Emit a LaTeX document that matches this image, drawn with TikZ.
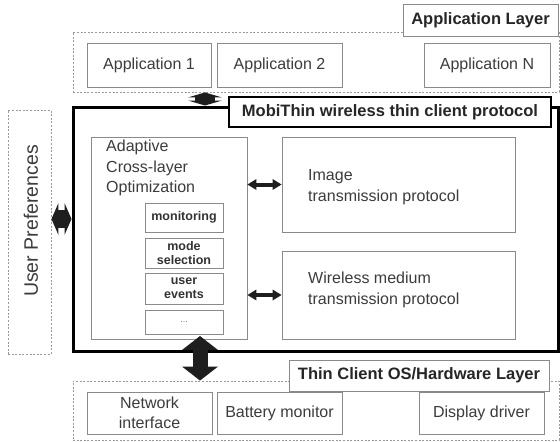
\documentclass[tikz,border=0pt]{standalone}
\usepackage{fontspec}
\setmainfont{Liberation Sans}
\usetikzlibrary{arrows.meta}
\definecolor{boxgray}{HTML}{8A8A8A}
\definecolor{txtgray}{HTML}{3C3C3C}
\definecolor{dotgray}{HTML}{9A9A9A}
\definecolor{arrblack}{HTML}{1E1E1E}
\begin{document}
\begin{tikzpicture}[x=1pt,y=-1pt,
  dashbox/.style={draw=dotgray, line width=0.9pt, dash pattern=on 2pt off 1.6pt, inner sep=0pt},
  gbox/.style={draw=boxgray, line width=0.9pt, fill=white, inner sep=0pt, text=txtgray, align=center, font=\fontsize{16}{20.5}\selectfont},
  lbl/.style={draw=boxgray, line width=0.9pt, fill=white, inner sep=0pt, text=black!85, font=\bfseries\fontsize{16.5}{20}\selectfont},
  thicklbl/.style={draw=black, line width=2.6pt, fill=white, inner sep=0pt, text=black!85, font=\bfseries\fontsize{16.5}{20}\selectfont},
  subbox/.style={draw=boxgray, line width=0.8pt, fill=white, inner sep=0pt, align=center, text=black!80, font=\bfseries\fontsize{12.5}{14}\selectfont},
  txt/.style={inner sep=0pt, align=left, text=txtgray, font=\fontsize{16}{20.5}\selectfont},
  bigarrow/.style={draw=arrblack, line width=15pt, >={Triangle[width=36pt,length=14pt,line width=0pt]}, <->},
  toparrow/.style={draw=arrblack, line width=20pt, >={Triangle[width=34pt,length=5pt,line width=0pt]}, <->},
  leftarrow/.style={draw=arrblack, line width=18pt, >={Triangle[width=32pt,length=7pt,line width=0pt]}, <->},
  thinarrow/.style={draw=arrblack, line width=4pt, >={Triangle[width=11pt,length=9pt,line width=0pt]}, <->}
]
\useasboundingbox[fill=white] (0,0) rectangle (560,442);

% Application layer
\node[dashbox, minimum width=486, minimum height=60] (applayer) at (316,62) {};
\node[lbl, minimum width=155, minimum height=32] (applbl) at (480.5,20) {Application Layer};
\node[gbox, minimum width=124, minimum height=44] (app1) at (149,65) {Application 1};
\node[gbox, minimum width=125, minimum height=44] (app2) at (279.5,65) {Application 2};
\node[gbox, minimum width=126, minimum height=44] (appN) at (487,65) {Application N};

% User preferences
\node[dashbox, minimum width=43, minimum height=244] (up) at (29.5,232) {};
\node[txt, rotate=90, font=\fontsize{19.5}{22}\selectfont] (uptxt) at (31,221) {User Preferences};

% MobiThin
\node[draw=black, line width=3pt, fill=white, inner sep=0pt, minimum width=485, minimum height=244] (mobi) at (315.5,229) {};
\node[thicklbl, minimum width=322, minimum height=30] (mobilbl) at (390,112) {MobiThin wireless thin client protocol};

\node[gbox, minimum width=156, minimum height=202] (adapt) at (169,238) {};
\node[txt, anchor=north west] (adapttxt) at (106,140) {Adaptive\\Cross-layer\\Optimization};
\node[subbox, minimum width=78, minimum height=29] (mon) at (184,217.5) {monitoring};
\node[subbox, minimum width=78, minimum height=30] (mode) at (184,253) {mode\\selection};
\node[subbox, minimum width=78, minimum height=31] (uev) at (184,288.5) {user\\events};
\node[subbox, minimum width=78, minimum height=24, font=\fontsize{9}{10}\selectfont, text=black!55] (dots) at (184,322) {...};

\node[gbox, minimum width=233, minimum height=95] (img) at (398.5,184.5) {};
\node[txt, anchor=west] (imgtxt) at (308,187) {Image\\transmission protocol};
\node[gbox, minimum width=233, minimum height=88] (wl) at (398.5,295) {};
\node[txt, anchor=west] (wltxt) at (308,290) {Wireless medium\\transmission protocol};

% Hardware layer
\node[dashbox, minimum width=486, minimum height=59] (hw) at (316,410.5) {};
\node[lbl, minimum width=260, minimum height=31] (hwlbl) at (419,375.5) {Thin Client OS/Hardware Layer};
\node[gbox, minimum width=125, minimum height=42] (net) at (149.5,413) {Network\\interface};
\node[gbox, minimum width=125, minimum height=42] (bat) at (279.5,413) {Battery monitor};
\node[gbox, minimum width=125, minimum height=42] (disp) at (481.5,413) {Display driver};

% Arrows
\coordinate (topx) at (205,0);
\draw[toparrow] (topx |- applayer.south) -- (topx |- mobi.north);
\coordinate (lefty) at (0,219);
\draw[leftarrow] (up.east |- lefty) -- (mobi.west |- lefty);
\draw[thinarrow] (adapt.east |- img.west) -- (img.west);
\draw[thinarrow] (adapt.east |- wl.west) -- (wl.west);
\coordinate (bigx) at (200,336);
\draw[bigarrow] (bigx) -- (bigx |- hw.north);
\end{tikzpicture}
\end{document}
